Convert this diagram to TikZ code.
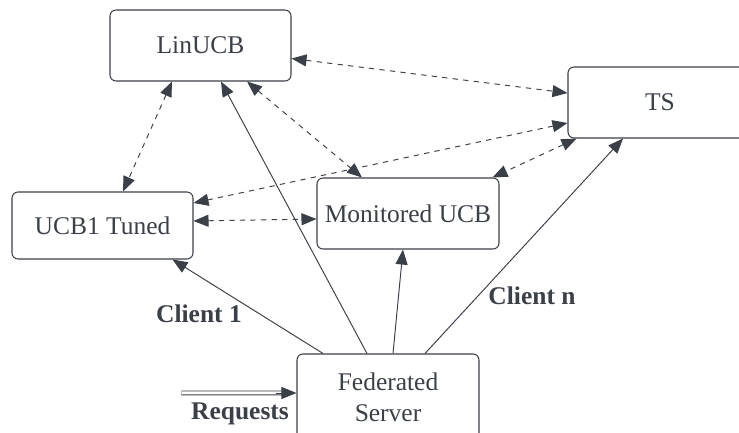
\documentclass[tikz,border=0pt]{standalone}
\usepackage{fontspec}
\setmainfont{Liberation Serif}
\usepackage{tikz}
\usetikzlibrary{arrows.meta}
\definecolor{inkgray}{HTML}{3A3F48}

\begin{document}
\begin{tikzpicture}[scale=0.2,
    box/.style={draw=inkgray, line width=0.6pt, rounded corners=0.12cm, text=inkgray,
      minimum width=3.62cm, minimum height=1.42cm, align=center,
      font=\fontsize{14.5}{17.5}\selectfont},
    lbl/.style={text=inkgray, font=\fontsize{14.5}{17.5}\selectfont\bfseries},
    tip/.style={-{Triangle[length=0.3cm,width=0.24cm]}},
    both/.style={{Triangle[length=0.3cm,width=0.24cm]}-{Triangle[length=0.3cm,width=0.24cm]}},
    link/.style={draw=inkgray, line width=0.55pt, tip},
    peer/.style={draw=inkgray, line width=0.55pt, dashed, both}]
            \useasboundingbox (0,0) rectangle (73.9,-43.2);
            \tikzstyle{every node}+=[inner sep=0pt]
            % boxes
            \draw (20.05,-4.55) node [box] (lin) {LinUCB};
            \draw (66.0,-10.25) node [box, minimum width=3.68cm] (ts) {TS};
            \draw (10.25,-22.55) node [box, minimum height=1.34cm] (ucb) {UCB1 Tuned};
            \draw (40.8,-21.35) node [box, minimum width=3.64cm] (mon) {Monitored UCB};
            \draw (38.8,-39.7) node [box, minimum width=3.64cm, minimum height=1.72cm] (fed) {Federated\\Server};
            % dashed links between the algorithms (shifts are in picture units x5)
            \draw [peer] ([yshift=-1.3cm]lin.east) -- ([yshift=0.95cm]ts.west);
            \draw [peer] ([xshift=-2.85cm]lin.south) -- ([xshift=2.05cm]ucb.north);
            \draw [peer] ([xshift=4.65cm]lin.south) -- ([xshift=-4.6cm]mon.north);
            \draw [peer] ([yshift=-2.05cm]ts.west) -- ([yshift=2.25cm]ucb.east);
            \draw [peer] ([xshift=0.9cm]ts.south west) -- ([xshift=-0.7cm]mon.north east);
            \draw [peer] ([yshift=0.45cm]ucb.east) -- ([yshift=-0.55cm]mon.west);
            % clients
            \draw [link] ([xshift=-6.5cm]fed.north) -- ([xshift=7cm]ucb.south);
            \draw [link] ([xshift=-2.1cm]fed.north) -- ([xshift=2.05cm]lin.south);
            \draw [link] ([xshift=0.5cm]fed.north) -- ([xshift=-0.5cm]mon.south);
            \draw [link] ([xshift=3.7cm]fed.north) -- ([xshift=-3.7cm]ts.south);
            \draw (19.9,-31.4) node [lbl] (c1) {Client 1};
            \draw (53.2,-29.6) node [lbl] (cn) {Client n};
            % incoming requests
            \coordinate (reqend) at ([yshift=0.4cm]fed.west);
            \coordinate (req) at ([xshift=-11.5cm]reqend);
            \draw [draw=inkgray, line width=0.55pt, double, double distance=0.06cm,
              shorten >=0.25cm] (req) -- (reqend);
            \draw [link] ([xshift=-2cm]reqend) -- (reqend);
            \draw (24.0,-41.4) node [lbl] (rq) {Requests};
        \end{tikzpicture}
\end{document}
